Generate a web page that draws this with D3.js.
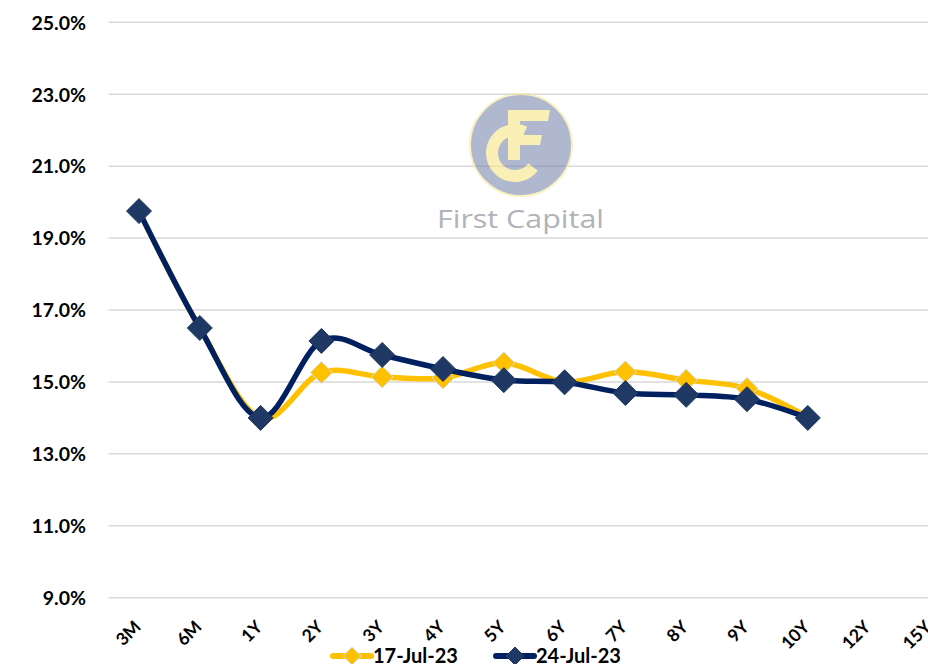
<!DOCTYPE html>
<html>
<head>
<meta charset="utf-8">
<script src="https://cdn.jsdelivr.net/npm/d3@7"></script>
<style>
html,body{margin:0;padding:0;background:#fff;overflow:hidden;}
svg{display:block;}
</style>
</head>
<body>
<svg id="chart" width="928" height="664"></svg>
<script>
const categories = ["3M","6M","1Y","2Y","3Y","4Y","5Y","6Y","7Y","8Y","9Y","10Y","12Y","15Y"];
const seriesNames = ["17-Jul-23","24-Jul-23"];
const values17Jul = [19.75,16.50,14.00,15.26,15.14,15.11,15.53,15.00,15.28,15.05,14.82,14.02];
const values24Jul = [19.75,16.50,14.00,16.14,15.75,15.36,15.05,14.99,14.69,14.64,14.52,14.00];
const yTicks = [9,11,13,15,17,19,21,23,25];
const colors = ["#FFC000","#002060"];
const markerFill = ["#FFC000","#1F3864"];

const svg = d3.select("#chart");
const W = 928, H = 664;

const y = d3.scaleLinear().domain([9,25]).range([597.7,22.3]);
const x = d3.scalePoint().domain(categories).range([139, 139 + 60.8*13]);
const plotLeft = 108.6;

// gridlines
svg.append("g").selectAll("line").data(yTicks).join("line")
  .attr("x1", plotLeft).attr("x2", W)
  .attr("y1", d => y(d)).attr("y2", d => y(d))
  .attr("stroke", "#d9d9d9").attr("stroke-width", 1.5);

// y axis labels
const yAxis = d3.axisLeft(y).tickValues(yTicks).tickFormat(d => d.toFixed(1) + "%").tickSize(0).tickPadding(0);
const ya = svg.append("g").attr("transform", "translate(86,0)").call(yAxis);
ya.select(".domain").remove();
ya.selectAll("text").attr("font-family","Lato, 'Open Sans', sans-serif").attr("font-weight","bold")
  .attr("font-size","19.5px").attr("fill","#000").attr("dy","0.35em");

// x axis labels
const xAxis = d3.axisBottom(x).tickSize(0).tickPadding(0);
const xa = svg.append("g").call(xAxis);
xa.select(".domain").remove();
xa.selectAll(".tick").attr("transform", d => `translate(${x(d)+3},628)`);
xa.selectAll("text").attr("font-family","Lato, 'Open Sans', sans-serif").attr("font-weight","bold")
  .attr("font-size","17.5px").attr("fill","#000")
  .attr("text-anchor","end").attr("dy","0").attr("y",0).attr("x",0)
  .attr("transform","rotate(-45)");

// watermark logo
const logo = svg.append("g").attr("opacity", 0.55);
logo.append("circle").attr("cx",521).attr("cy",145).attr("r",51)
  .attr("fill","#6f7fa8").attr("stroke","#f6e68f").attr("stroke-width",2);
// C
logo.append("path")
  .attr("transform","translate(515,153)")
  .attr("d", d3.arc().innerRadius(17).outerRadius(29)
     .startAngle(128*Math.PI/180).endAngle(385*Math.PI/180)())
  .attr("fill","#f7e37a");
// F
logo.append("path")
  .attr("d","M508,110 L550,110 L548,121 L520,121 L520,135 L542,135 L540,145 L520,145 L520,160 L508,160 Z")
  .attr("fill","#f7e37a");
svg.append("text").attr("x",437).attr("y",228)
  .attr("font-family","'Open Sans', Lato, sans-serif").attr("font-size","25px")
  .attr("fill","#b0b3b9").attr("textLength",167).attr("lengthAdjust","spacingAndGlyphs")
  .text("First Capital");

// series
const line = d3.line().x((d,i) => x(categories[i])).y(d => y(d)).curve(d3.curveCardinal.tension(0));
const allSeries = [values17Jul, values24Jul];
const markerSize = [22, 25];
allSeries.forEach((vals, s) => {
  const g = svg.append("g");
  g.append("path").datum(vals).attr("d", line)
    .attr("fill","none").attr("stroke", colors[s]).attr("stroke-width", 5.5)
    .attr("stroke-linejoin","round").attr("stroke-linecap","round");
  g.selectAll("path.m").data(vals).join("path").attr("class","m")
    .attr("transform",(d,i) => `translate(${x(categories[i])},${y(d)})`)
    .attr("d", () => { const h = markerSize[s]/2; return `M0,${-h}L${h},0L0,${h}L${-h},0Z`; })
    .attr("fill", markerFill[s])
    .attr("stroke", s === 0 ? "#cfe0ee" : "#1F3864").attr("stroke-width", 1);
});

// legend
const legendItems = [{x1:333, x2:371, tx:373}, {x1:496, x2:534, tx:536}];
legendItems.forEach((it, s) => {
  const g = svg.append("g");
  g.append("line").attr("x1",it.x1).attr("x2",it.x2).attr("y1",656).attr("y2",656)
    .attr("stroke",colors[s]).attr("stroke-width",6).attr("stroke-linecap","round");
  const cx = (it.x1+it.x2)/2, h = 9;
  g.append("path").attr("d",`M${cx},${656-h}L${cx+h},656L${cx},${656+h}L${cx-h},656Z`)
    .attr("fill",markerFill[s]).attr("stroke", s===0 ? "#cfe0ee" : "#1F3864").attr("stroke-width",1);
  g.append("text").attr("x",it.tx).attr("y",663)
    .attr("font-family","Lato, 'Open Sans', sans-serif").attr("font-weight","bold")
    .attr("font-size","20px").attr("fill","#000").text(seriesNames[s]);
});

// decorative corner shape
svg.append("ellipse").attr("cx",-160).attr("cy",760).attr("rx",190).attr("ry",104)
  .attr("fill","#0b2466");
</script>
</body>
</html>
